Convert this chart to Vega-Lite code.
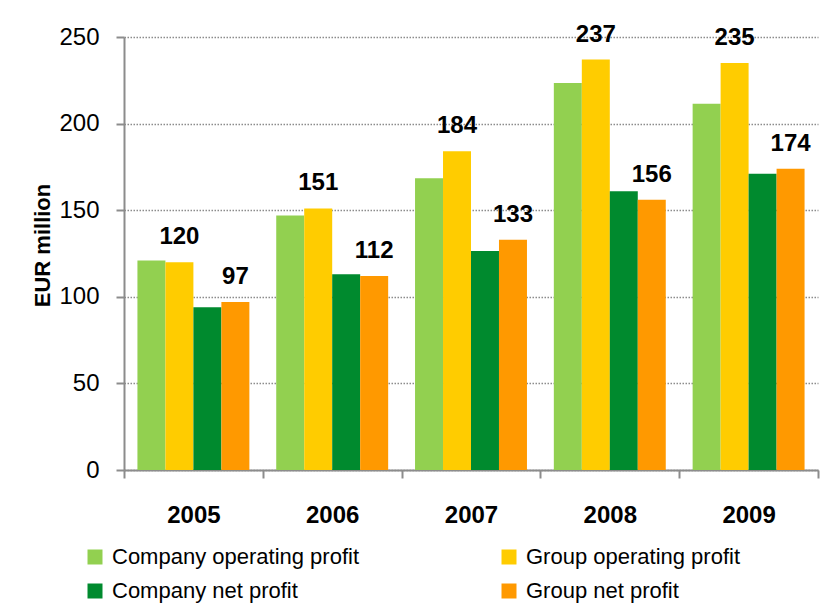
{
  "$schema": "https://vega.github.io/schema/vega-lite/v6.json",
  "autosize": "none",
  "width": 694,
  "height": 433,
  "padding": {"left": 124, "top": 37, "right": 14, "bottom": 133},
  "background": "white",
  "config": {
    "font": "Liberation Sans, Arial, sans-serif",
    "view": {"stroke": null}
  },
  "data": {
    "values": [
      {"year": "2005", "series": "Company operating profit", "value": 121},
      {"year": "2005", "series": "Group operating profit", "value": 120},
      {"year": "2005", "series": "Company net profit", "value": 94},
      {"year": "2005", "series": "Group net profit", "value": 97},
      {"year": "2006", "series": "Company operating profit", "value": 147},
      {"year": "2006", "series": "Group operating profit", "value": 151},
      {"year": "2006", "series": "Company net profit", "value": 113},
      {"year": "2006", "series": "Group net profit", "value": 112},
      {"year": "2007", "series": "Company operating profit", "value": 168.5},
      {"year": "2007", "series": "Group operating profit", "value": 184},
      {"year": "2007", "series": "Company net profit", "value": 126.5},
      {"year": "2007", "series": "Group net profit", "value": 133},
      {"year": "2008", "series": "Company operating profit", "value": 223.5},
      {"year": "2008", "series": "Group operating profit", "value": 237},
      {"year": "2008", "series": "Company net profit", "value": 161},
      {"year": "2008", "series": "Group net profit", "value": 156},
      {"year": "2009", "series": "Company operating profit", "value": 211.5},
      {"year": "2009", "series": "Group operating profit", "value": 235},
      {"year": "2009", "series": "Company net profit", "value": 171},
      {"year": "2009", "series": "Group net profit", "value": 174}
    ]
  },
  "encoding": {
    "x": {
      "field": "year", "type": "nominal",
      "scale": {"paddingInner": 0, "paddingOuter": 0},
      "axis": {
        "title": null, "labelAngle": 0, "tickBand": "extent",
        "domainColor": "#8c8c8c", "domainWidth": 2,
        "tickColor": "#8c8c8c", "tickWidth": 2, "tickSize": 8,
        "labelFontSize": 24, "labelFontWeight": "bold", "labelColor": "#000000",
        "labelBaseline": "middle", "labelPadding": 37
      }
    },
    "xOffset": {
      "field": "series", "type": "nominal",
      "sort": ["Company operating profit", "Group operating profit", "Company net profit", "Group net profit"],
      "scale": {"paddingInner": 0, "paddingOuter": 0.48}
    },
    "y": {
      "field": "value", "type": "quantitative",
      "scale": {"domain": [0, 250], "nice": false},
      "axis": {
        "values": [0, 50, 100, 150, 200, 250],
        "title": "EUR million",
        "titleFontSize": 22, "titleFontWeight": "bold", "titleColor": "#000000",
        "titleX": -82, "titleY": 208, "titleAngle": -90, "titleAlign": "center", "titleBaseline": "middle",
        "domainColor": "#8c8c8c", "domainWidth": 2,
        "tickColor": "#8c8c8c", "tickWidth": 2, "tickSize": 8,
        "labelFontSize": 24, "labelColor": "#000000", "labelPadding": 17,
        "grid": true, "gridColor": "#8c8c8c", "gridDash": [1.5, 1.5], "gridWidth": 1.5
      }
    }
  },
  "layer": [
    {
      "mark": {"type": "bar"},
      "encoding": {
        "color": {
          "field": "series", "type": "nominal",
          "sort": ["Company operating profit", "Group operating profit", "Company net profit", "Group net profit"],
          "scale": {
            "domain": ["Company operating profit", "Group operating profit", "Company net profit", "Group net profit"],
            "range": ["#92D050", "#FFCC00", "#008A2E", "#FF9900"]
          },
          "legend": {
            "title": null, "orient": "none", "legendX": -40, "legendY": 509,
            "direction": "horizontal", "columns": 2, "columnPadding": 138, "rowPadding": 12,
            "symbolType": "square", "symbolSize": 225, "symbolStrokeWidth": 0, "symbolOpacity": 1,
            "labelFontSize": 22, "labelColor": "#000000", "labelOffset": 6, "labelLimit": 400
          }
        }
      }
    },
    {
      "transform": [{"filter": "datum.series == 'Group operating profit' || datum.series == 'Group net profit'"}],
      "mark": {"type": "text", "dy": -18, "baseline": "alphabetic", "fontSize": 24, "fontWeight": "bold", "color": "#000000"},
      "encoding": {"text": {"field": "value", "type": "quantitative"}}
    }
  ]
}
